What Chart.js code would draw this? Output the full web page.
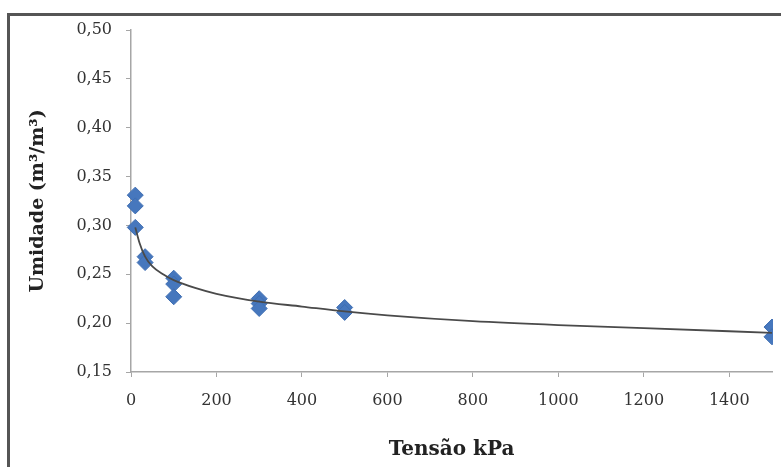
<!DOCTYPE html>
<html>
<head>
<meta charset="utf-8">
<script src="https://cdn.jsdelivr.net/npm/chart.js@4/dist/chart.umd.min.js"></script>
<style>
  html, body { margin: 0; padding: 0; background: #fff; }
  #wrap { position: relative; width: 781px; height: 467px; overflow: hidden; }
  #frame {
    position: absolute; left: 7px; top: 13px; width: 800px; height: 480px;
    border-left: 3px solid #555; border-top: 3px solid #555; box-sizing: border-box;
  }
  canvas { position: absolute; left: 0; top: 0; }
</style>
</head>
<body>
<div id="wrap">
  <div id="frame"></div>
  <canvas id="chart" width="781" height="467"></canvas>
</div>
<script>
// medições: tensão (kPa) x umidade (m3/m3)
const tensao = [10, 10, 10, 33, 33, 100, 100, 100, 300, 300, 300, 500, 500, 1500, 1500];
const umidade = [0.331, 0.320, 0.298, 0.268, 0.262, 0.246, 0.240, 0.227, 0.225, 0.220, 0.215, 0.216, 0.211, 0.196, 0.186];

// linha de tendência
const trendX = [10, 20, 33, 50, 75, 100, 150, 200, 300, 400, 500, 600, 800, 1000, 1200, 1500];
const trendY = [0.298, 0.282, 0.268, 0.258, 0.250, 0.244, 0.236, 0.230, 0.222, 0.217, 0.212, 0.208, 0.202, 0.198, 0.195, 0.190];

const serif = "'DejaVu Serif', 'Liberation Serif', serif";

const pontos = tensao.map((x, i) => ({ x, y: umidade[i] }));
const tendencia = trendX.map((x, i) => ({ x, y: trendY[i] }));

// corta os marcadores na borda direita da área do gráfico
const cortaDireita = {
  id: "cortaDireita",
  beforeDatasetsDraw(chart) {
    const { ctx, chartArea, height } = chart;
    ctx.save();
    ctx.beginPath();
    ctx.rect(0, 0, chartArea.right + 1, height);
    ctx.clip();
  },
  afterDatasetsDraw(chart) {
    chart.ctx.restore();
  },
};

new Chart(document.getElementById("chart"), {
  type: "scatter",
  data: {
    datasets: [
      {
        label: "tendência",
        data: tendencia,
        showLine: true,
        borderColor: "#4a4a4a",
        borderWidth: 1.8,
        pointRadius: 0,
        cubicInterpolationMode: "monotone",
        order: 0,
      },
      {
        label: "umidade",
        data: pontos,
        pointStyle: "rectRot",
        pointRadius: 8,
        backgroundColor: "#4677bd",
        borderColor: "#3f6eb2",
        borderWidth: 1,
        clip: false,
        order: 1,
      },
    ],
  },
  options: {
    responsive: false,
    animation: false,
    layout: { padding: { left: 10, top: 30, right: 9, bottom: 0 } },
    plugins: { legend: { display: false }, tooltip: { enabled: false } },
    scales: {
      x: {
        type: "linear",
        min: 0,
        max: 1500,
        afterFit: (s) => { s.height = 95; },
        ticks: {
          stepSize: 200,
          includeBounds: false,
          padding: 14,
          color: "#333",
          font: { family: serif, size: 16 },
          callback: (v) => String(v),
        },
        grid: { drawOnChartArea: false, drawTicks: true, tickLength: 5, color: "#a6a6a6" },
        border: { color: "#a6a6a6", width: 1.5 },
        title: {
          display: true,
          text: "Tensão kPa",
          color: "#222",
          font: { family: serif, size: 20, weight: "bold" },
          padding: { top: 0, bottom: 5 },
        },
      },
      y: {
        type: "linear",
        min: 0.15,
        max: 0.5,
        afterFit: (s) => { s.width = 121; },
        ticks: {
          stepSize: 0.05,
          padding: 14,
          color: "#333",
          font: { family: serif, size: 16 },
          callback: (v) => v.toFixed(2).replace(".", ","),
        },
        grid: { drawOnChartArea: false, drawTicks: true, tickLength: 5, color: "#a6a6a6" },
        border: { color: "#a6a6a6", width: 1.5 },
        title: {
          display: true,
          text: "Umidade (m³/m³)",
          color: "#222",
          font: { family: serif, size: 19, weight: "bold" },
          padding: { top: 17, bottom: 0 },
        },
      },
    },
  },
  plugins: [cortaDireita],
});
</script>
</body>
</html>
